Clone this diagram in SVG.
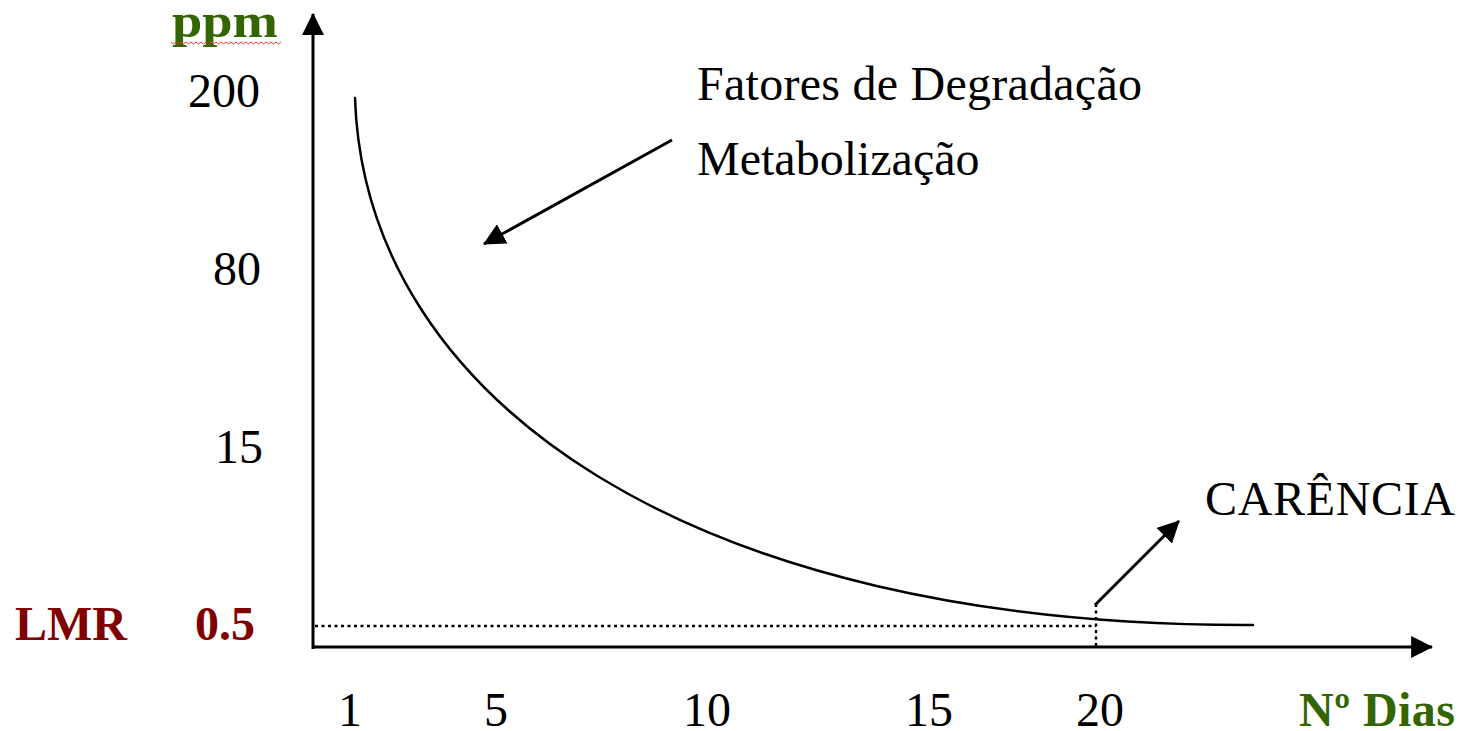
<svg xmlns="http://www.w3.org/2000/svg" width="1466" height="731" viewBox="0 0 1466 731">
<style>
.t{font-family:"Liberation Serif","Times New Roman",serif;font-size:48px;fill:#000}
.b{font-weight:bold}
.g{fill:#336600}
.r{fill:#800000}
.ar{stroke:#000;stroke-width:3;fill:none;marker-end:url(#ah)}
.dot{stroke:#000;stroke-width:2.5;fill:none;stroke-dasharray:3 3.5}
.cv{stroke:#000;stroke-width:2.5;fill:none;stroke-linecap:round}
</style>
<defs>
<marker id="ah" viewBox="0 0 20 20" refX="19" refY="10" markerWidth="22" markerHeight="22" markerUnits="userSpaceOnUse" orient="auto">
<path d="M0,0 L20,10 L0,20 z" fill="#000"/>
</marker>
</defs>
<rect width="1466" height="731" fill="#fff"/>
<g id="connectors">
<line id="y-axis" class="ar" x1="313" y1="649" x2="313" y2="14"/>
<line id="x-axis" class="ar" x1="312" y1="647" x2="1432" y2="647"/>
<line id="arrow-fatores" class="ar" x1="672" y1="140" x2="484" y2="244"/>
<line id="arrow-carencia" class="ar" x1="1095" y1="605" x2="1179" y2="521"/>
<line id="lmr-h" class="dot" x1="315" y1="626" x2="1096" y2="626"/>
<line id="lmr-v" class="dot" x1="1096" y1="604" x2="1096" y2="646"/>
<path id="curve" class="cv" d="M355,98 C365,400 690,627 1253,625"/>
</g>
<g id="y-label">
<text class="t b g" x="172" y="37" font-size="54" textLength="106" lengthAdjust="spacingAndGlyphs">ppm</text>
<path d="M171,42 l2.5,2 l2.5,-2 l2.5,2 l2.5,-2 l2.5,2 l2.5,-2 l2.5,2 l2.5,-2 l2.5,2 l2.5,-2 l2.5,2 l2.5,-2 l2.5,2 l2.5,-2 l2.5,2 l2.5,-2 l2.5,2 l2.5,-2 l2.5,2 l2.5,-2 l2.5,2 l2.5,-2 l2.5,2 l2.5,-2 l2.5,2 l2.5,-2 l2.5,2 l2.5,-2 l2.5,2 l2.5,-2 l2.5,2 l2.5,-2 l2.5,2 l2.5,-2 l2.5,2 l2.5,-2 l2.5,2 l2.5,-2 l2.5,2 l2.5,-2 l2.5,2 l2.5,-2 l2.5,2 l2.5,-2" stroke="#ff3333" stroke-width="1" fill="none"/>
</g>
<g id="y-ticks">
<text class="t" x="188" y="107">200</text>
<text class="t" x="213" y="285">80</text>
<text class="t" x="215" y="463">15</text>
<text class="t b r" x="15" y="640">LMR</text>
<text class="t b r" x="195" y="640">0.5</text>
</g>
<g id="x-ticks">
<text class="t" x="350" y="726" text-anchor="middle">1</text>
<text class="t" x="496" y="726" text-anchor="middle">5</text>
<text class="t" x="707" y="726" text-anchor="middle">10</text>
<text class="t" x="929" y="726" text-anchor="middle">15</text>
<text class="t" x="1100" y="726" text-anchor="middle">20</text>
<text class="t b g" x="1299" y="726" textLength="156">Nº Dias</text>
</g>
<g id="label-fatores">
<text class="t" x="697" y="100" textLength="445">Fatores de Degradação</text>
<text class="t" x="697" y="175">Metabolização</text>
</g>
<g id="label-carencia">
<text class="t" x="1205" y="515" textLength="250">CARÊNCIA</text>
</g>
</svg>
